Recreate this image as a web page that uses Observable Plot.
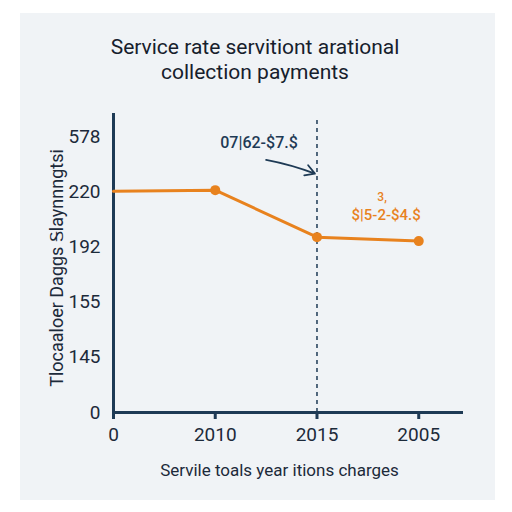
<!DOCTYPE html>
<html><head><meta charset="utf-8">
<script src="https://cdn.jsdelivr.net/npm/d3@7"></script>
<script src="https://cdn.jsdelivr.net/npm/@observablehq/plot@0.6"></script>
<style>
body{margin:0;background:#fff;width:512px;height:512px;overflow:hidden;font-family:Roboto,sans-serif}
#panel{position:absolute;left:20px;top:13px;width:475px;height:487px;background:#f0f3f6}
#title{position:absolute;left:0;width:510px;top:35px;text-align:center;font-size:21px;line-height:25px;color:#16202c}
#chart{position:absolute;left:0;top:0}
</style></head><body>
<div id="panel"></div>
<div id="title">Service rate servitiont arational<br>collection payments</div>
<div id="chart"></div>
<script>
const categories = ["0", "2010", "2015", "2005"];
const values = [223, 231, 197, 195];
const yTickLabels = [0, 145, 155, 192, 220, 578];
const yTitle = "Tlocaaloer Dagɡs Ꭶlaynnngtsi";
const xTitle = "Servile toals year itions charges";
const noteDark = "07|62-$7.$";
const noteOrange = "$|5-2-$4.$";
const noteOrangeSup = "3,";

const navy = "#1e3a55";
const orange = "#e8821e";
const toPos = d3.scaleLinear().domain(yTickLabels).range(yTickLabels.map((d, i) => i));
const data = categories.map((c, i) => ({i, cat: c, v: values[i], p: toPos(values[i])}));

const chart = Plot.plot({
  width: 512, height: 512,
  marginLeft: 113, marginRight: 49, marginTop: 113, marginBottom: 100,
  style: {background: "transparent", fontFamily: "Roboto, sans-serif", fontSize: "18px", color: "#1c2a3a"},
  x: {domain: [0, 3.44], axis: null},
  y: {domain: [0, 5.42], axis: null},
  marks: [
    Plot.axisX({ticks: [0, 1, 2, 3], tickFormat: i => categories[i], tickSize: 7, tickPadding: 8, fontSize: 19, stroke: navy, strokeWidth: 3, label: null}),
    Plot.axisY({ticks: [0, 1, 2, 3, 4, 5], tickFormat: i => yTickLabels[i], tickSize: 0, tickPadding: 13, fontSize: 19, label: null}),
    Plot.ruleX([2], {y1: 0, y2: 5.33, stroke: navy, strokeWidth: 1.5, strokeDasharray: "4,4"}),
    Plot.ruleY([0], {stroke: navy, strokeWidth: 3}),
    Plot.ruleX([0], {stroke: navy, strokeWidth: 3}),
    Plot.line(data, {x: "i", y: "p", stroke: orange, strokeWidth: 3}),
    Plot.dot(data.filter(d => d.i > 0), {x: "i", y: "p", r: 5, fill: orange}),
    Plot.text([noteDark], {x: 1.43, y: 4.89, text: d => d, fontSize: 16, fill: navy, fontWeight: 500}),
    Plot.arrow([{x1: 1.5, y1: 4.58, x2: 1.98, y2: 4.33}], {x1: "x1", y1: "y1", x2: "x2", y2: "y2", bend: 5, stroke: navy, strokeWidth: 1.8, headLength: 9}),
    Plot.text([noteOrange], {x: 2.68, y: 3.58, text: d => d, fontSize: 15, fill: orange, fontWeight: 500}),
    Plot.text([noteOrangeSup], {x: 2.64, y: 3.9, text: d => d, fontSize: 12, fill: orange, fontWeight: 500}),
    Plot.text([yTitle], {frameAnchor: "left", textAnchor: "middle", dx: -56, dy: 5, rotate: -90, text: d => d, fontSize: 18, fill: "#1c2a3a"}),
    Plot.text([xTitle], {frameAnchor: "bottom", dx: -9, dy: 63, text: d => d, fontSize: 17, fill: "#1c2a3a"})
  ]
});
document.getElementById("chart").appendChild(chart);
</script>
</body></html>
